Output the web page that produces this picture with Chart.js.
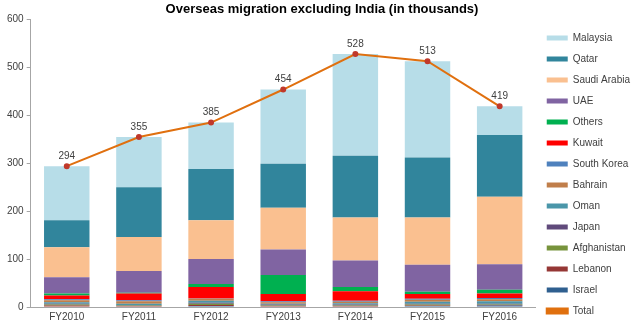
<!DOCTYPE html>
<html>
<head>
<meta charset="utf-8">
<script src="https://cdn.jsdelivr.net/npm/chart.js@4/dist/chart.umd.min.js"></script>
<style>
  html, body { margin: 0; padding: 0; background: #fff; }
  #wrap { width: 640px; height: 327px; position: relative; }
</style>
</head>
<body>
<div id="wrap"><canvas id="chart"></canvas></div>
<script>
const YEARS = ["FY2010", "FY2011", "FY2012", "FY2013", "FY2014", "FY2015", "FY2016"];

// stacked from the bottom up
const ISRAEL      = [1, 1, 2, 1, 1, 2, 3];
const LEBANON     = [2, 1, 2, 1, 1, 1, 1];
const AFGHANISTAN = [2, 1, 3, 1, 1, 2, 1];
const JAPAN       = [2, 1, 2, 2, 2, 2, 2];
const OMAN        = [3, 3, 4, 2, 3, 4, 5];
const BAHRAIN     = [4, 5, 4, 3, 3, 4, 4];
const SOUTH_KOREA = [2, 2, 1, 2, 2, 2, 3];
const KUWAIT      = [8, 14, 24, 15, 20, 10, 9];
const OTHERS      = [4, 2, 6, 40, 9, 5, 8];
const UAE         = [34, 45, 52, 53, 55, 56, 53];
const SAUDI       = [63, 71, 81, 87, 90, 99, 141];
const QATAR       = [56, 104, 107, 92, 129, 125, 129];
const MALAYSIA    = [113, 105, 97, 155, 212, 201, 60];
const TOTAL       = [294, 355, 385, 454, 528, 513, 419];

const FONT = "'Liberation Sans', Arial, sans-serif";

function bar(label, data, color) {
  return { type: "bar", label, data, backgroundColor: color, borderWidth: 0, order: 1 };
}

const datasets = [
  bar("Israel", ISRAEL, "#2F5F8F"),
  bar("Lebanon", LEBANON, "#953735"),
  bar("Afghanistan", AFGHANISTAN, "#77933C"),
  bar("Japan", JAPAN, "#604A7B"),
  bar("Oman", OMAN, "#4A96A9"),
  bar("Bahrain", BAHRAIN, "#C07E4A"),
  bar("South Korea", SOUTH_KOREA, "#4F81BD"),
  bar("Kuwait", KUWAIT, "#FF0000"),
  bar("Others", OTHERS, "#00B050"),
  bar("UAE", UAE, "#8064A2"),
  bar("Saudi Arabia", SAUDI, "#FAC090"),
  bar("Qatar", QATAR, "#31859C"),
  bar("Malaysia", MALAYSIA, "#B7DDE8"),
  {
    type: "line", label: "Total", data: TOTAL, stack: "total", order: 0,
    borderColor: "#E0700F", backgroundColor: "#E0700F", borderWidth: 2,
    pointRadius: 2, pointBackgroundColor: "#C0392B", pointBorderColor: "#C0392B",
    tension: 0
  }
];
const TOTAL_IDX = datasets.length - 1;

// numbers above the total line
const totalLabels = {
  id: "totalLabels",
  afterDatasetsDraw(chart) {
    const meta = chart.getDatasetMeta(TOTAL_IDX);
    const ctx = chart.ctx;
    ctx.save();
    ctx.font = "10px " + FONT;
    ctx.fillStyle = "#404040";
    ctx.textAlign = "center";
    ctx.textBaseline = "bottom";
    meta.data.forEach((pt, i) => ctx.fillText(String(TOTAL[i]), pt.x, pt.y - 5));
    ctx.restore();
  }
};

new Chart(document.getElementById("chart"), {
  data: { labels: YEARS, datasets },
  plugins: [totalLabels],
  options: {
    responsive: true,
    maintainAspectRatio: false,
    animation: false,
    layout: { padding: { left: 4, right: 0, top: 0, bottom: 0 } },
    plugins: {
      title: {
        display: true,
        text: "Overseas migration excluding India (in thousands)",
        font: { family: FONT, size: 13, weight: "bold" },
        color: "#000",
        padding: { top: 2, bottom: 2 }
      },
      legend: {
        position: "right",
        title: { display: true, text: " ", font: { family: FONT, size: 10 }, padding: 5 },
        labels: {
          font: { family: FONT, size: 10 },
          color: "#404040",
          boxWidth: 21,
          boxHeight: 5,
          padding: 11,
          // Malaysia first down to Israel, then Total
          sort: (a, b) => {
            const k = (it) => it.datasetIndex === TOTAL_IDX ? 999 : -it.datasetIndex;
            return k(a) - k(b);
          }
        }
      },
      tooltip: { enabled: false }
    },
    scales: {
      x: {
        stacked: true,
        grid: { display: false, drawTicks: false },
        border: { display: true, color: "#A6A6A6" },
        ticks: { font: { family: FONT, size: 10 }, color: "#404040", padding: 4 }
      },
      y: {
        stacked: true,
        min: 0,
        max: 600,
        grid: { drawOnChartArea: false, drawTicks: true, tickLength: 4, color: "#A6A6A6" },
        border: { display: true, color: "#A6A6A6" },
        ticks: { stepSize: 100, font: { family: FONT, size: 10 }, color: "#404040", padding: 3 }
      }
    },
    datasets: { bar: { categoryPercentage: 1, barPercentage: 0.63 } }
  }
});
</script>
</body>
</html>
